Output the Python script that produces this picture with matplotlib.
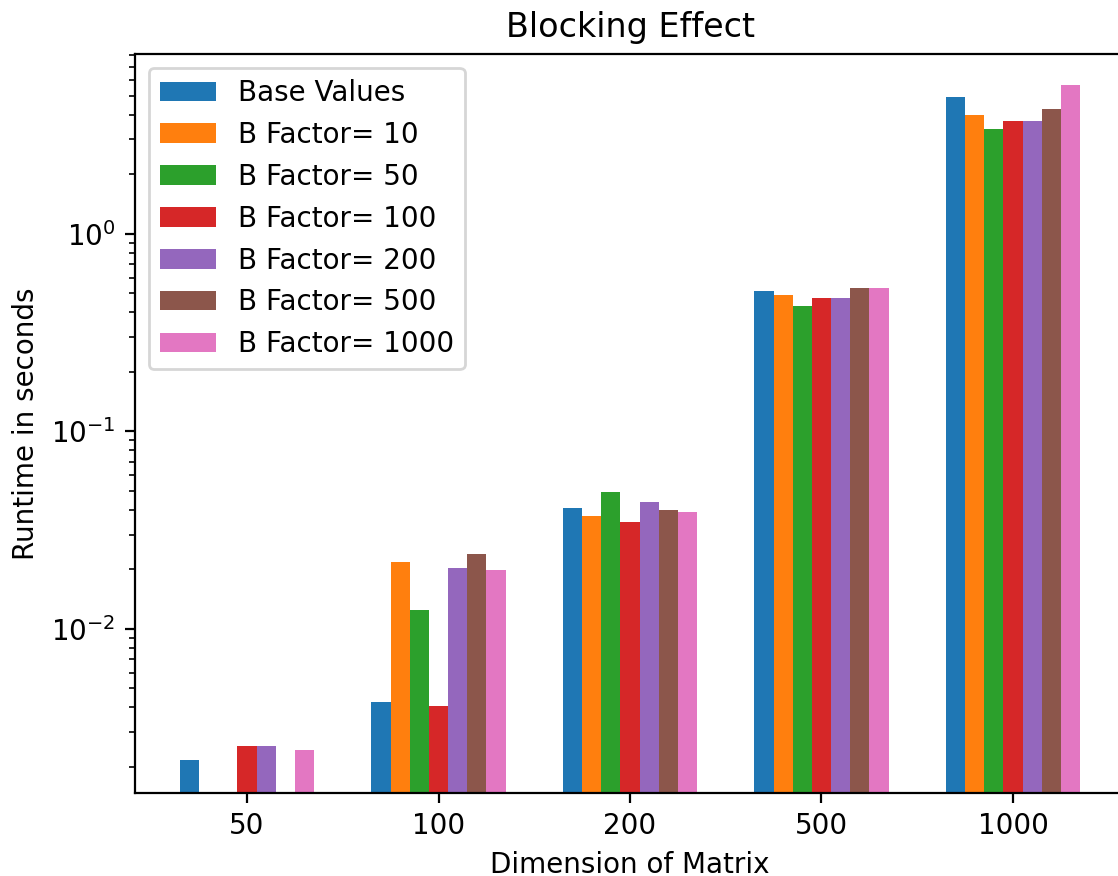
import numpy as np
import matplotlib
matplotlib.use("Agg")
import matplotlib.pyplot as plt

dims = ["50", "100", "200", "500", "1000"]
labels = ["Base Values", "B Factor= 10", "B Factor= 50", "B Factor= 100",
          "B Factor= 200", "B Factor= 500", "B Factor= 1000"]

# runtimes in seconds, one list per series (nan = no bar drawn)
base_vals = [0.00216, 0.00426, 0.0410, 0.511, 4.91]
bf_10 = [np.nan, 0.0218, 0.0373, 0.488, 3.98]
bf_50 = [np.nan, 0.01244, 0.0494, 0.432, 3.38]
bf_100 = [0.00255, 0.00407, 0.0348, 0.474, 3.72]
bf_200 = [0.00255, 0.0203, 0.0439, 0.474, 3.72]
bf_500 = [np.nan, 0.0240, 0.0401, 0.533, 4.26]
bf_1000 = [0.00243, 0.0199, 0.0391, 0.533, 5.64]

series = [base_vals, bf_10, bf_50, bf_100, bf_200, bf_500, bf_1000]

fig = plt.figure(figsize=(1118 / 200, 876 / 200), dpi=200)
ax = fig.add_axes([135 / 1118, 1 - 792.5 / 876, 990 / 1118, 738.5 / 876])

ind = np.arange(len(dims))
width = 0.1
for i, vals in enumerate(series):
    ax.bar(ind + (i - 3) * width, vals, width, label=labels[i])

ax.set_yscale("log")
ax.set_ylim(10 ** -2.829, 10 ** 0.910)
ax.set_xlim(-0.585, 4.585)
ax.set_xticks(ind)
ax.set_xticklabels(dims)
ax.set_xlabel("Dimension of Matrix")
ax.set_ylabel("Runtime in seconds")
ax.set_title("Blocking Effect")
ax.legend(loc="upper left")

fig.savefig("out.png", dpi=200)
